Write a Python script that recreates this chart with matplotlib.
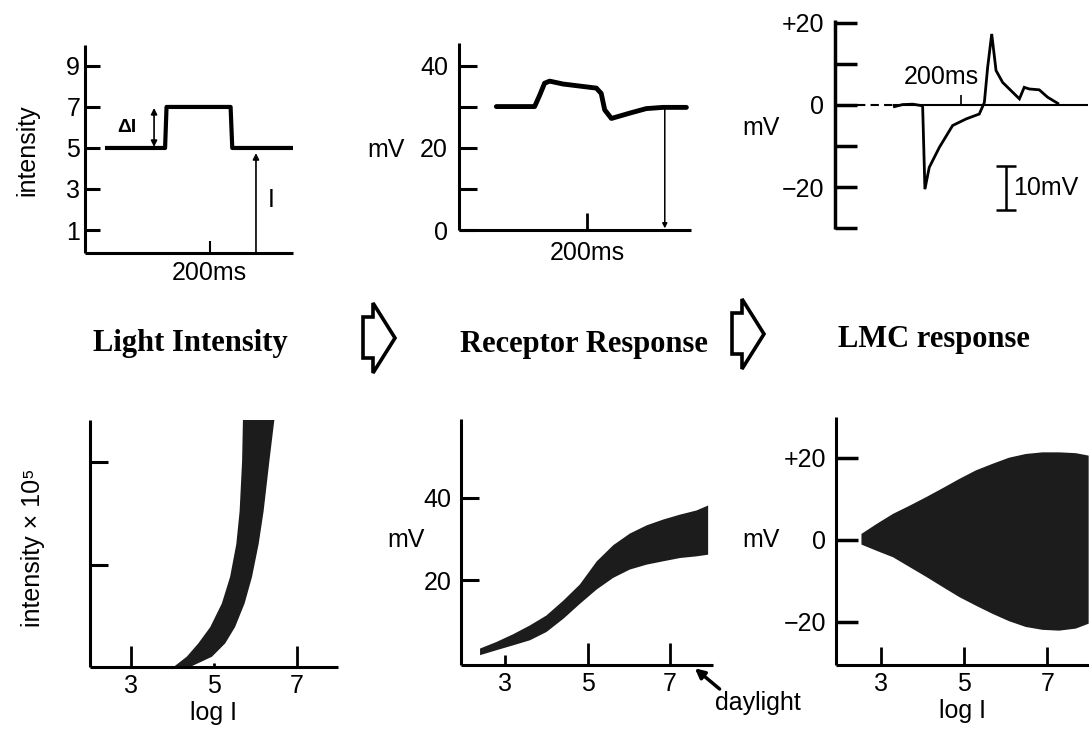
import matplotlib.pyplot as plt
from matplotlib.patches import Polygon

# ---- data ----
# top left: stimulus step
step_t = [10.6, 38.5, 39.2, 70.0, 70.8, 99.8]
step_i = [5, 5, 7, 7, 5, 5]
step_yticks = [1, 3, 5, 7, 9]

# top middle: receptor trace
rec_t = [16.1, 32.6, 34.8, 36.9, 39.1, 44.8, 52.0, 59.2, 61.3, 62.8, 65.7, 73.6, 80.7, 87.9, 98.0]
rec_mv = [30.1, 30.1, 32.9, 35.8, 36.3, 35.6, 35.1, 34.6, 33.3, 29.3, 27.2, 28.5, 29.6, 29.9, 29.9]
rec_yticks = [0, 10, 20, 30, 40]
rec_ylabels = ['0', '', '20', '', '40']

# top right: LMC trace
lmc_t = [23.4, 26.6, 30.6, 34.5, 35.4, 37.1, 41.1, 46.3, 51.6, 56.8, 58.8, 60.1, 61.7,
         63.4, 66.0, 72.6, 74.5, 76.5, 80.4, 83.7, 87.7]
lmc_mv = [-0.4, 0.1, 0.2, -0.2, -20.5, -15.2, -10.3, -5.0, -3.4, -2.2, 0.6, 9.2, 17.3,
          8.4, 5.5, 1.5, 4.3, 3.9, 3.7, 1.9, 0.4]
lmc_yticks = [-30, -20, -10, 0, 10, 20]
lmc_ylabels = ['', '\u221220', '', '0', '', '+20']
scale_bar_t, scale_bar_mid, scale_bar_half = 67.3, -20.2, 5.4

# bottom left: intensity band vs log I (left edge bottom->top, right edge top->bottom)
int_left_x = [4.02, 4.34, 4.62, 4.91, 5.19, 5.39, 5.54, 5.62, 5.68, 5.70]
int_left_y = [0.0, 0.10, 0.23, 0.39, 0.62, 0.88, 1.20, 1.52, 2.01, 2.41]
int_right_x = [6.46, 6.34, 6.20, 6.08, 5.92, 5.74, 5.51, 5.27, 4.95, 4.42]
int_right_y = [2.41, 2.01, 1.52, 1.20, 0.88, 0.62, 0.39, 0.23, 0.10, 0.0]

# bottom middle: receptor band
recb_x = [2.38, 2.78, 3.19, 3.59, 3.99, 4.40, 4.80, 5.21, 5.61, 6.01, 6.42, 6.82, 7.23, 7.63, 7.91]
recb_hi = [3.6, 5.2, 7.1, 9.2, 11.6, 15.2, 19.1, 24.7, 28.6, 31.4, 33.4, 34.8, 36.0, 37.0, 38.2]
recb_lo = [2.0, 3.2, 4.4, 5.6, 7.6, 10.8, 14.4, 17.9, 20.7, 22.7, 23.9, 24.7, 25.5, 25.9, 26.3]

# bottom right: LMC band
lmcb_x = [2.52, 2.88, 3.28, 3.68, 4.08, 4.48, 4.87, 5.27, 5.67, 6.07, 6.47, 6.87, 7.27, 7.67, 7.98]
lmcb_hi = [1.6, 4.0, 6.5, 8.5, 10.6, 12.8, 15.0, 17.1, 18.7, 20.2, 21.1, 21.5, 21.5, 21.3, 20.7]
lmcb_lo = [-1.0, -2.5, -4.1, -6.5, -8.9, -11.4, -13.8, -15.9, -17.9, -19.7, -21.1, -21.8, -22.0, -21.5, -20.3]

logi_ticks = [3, 5, 7]

W, H = 1089, 731
plt.rcParams['font.family'] = ['Liberation Sans', 'DejaVu Sans']
plt.rcParams['font.size'] = 18
fig = plt.figure(figsize=(W / 100, H / 100), dpi=100)


def box(l, t, r, b):
    return fig.add_axes([l / W, 1 - b / H, (r - l) / W, (b - t) / H])


def at(px, py):
    return px / W, 1 - py / H


def frame(ax, lw=2.2):
    for s in ['top', 'right']:
        ax.spines[s].set_visible(False)
    for s in ['left', 'bottom']:
        ax.spines[s].set_linewidth(lw)
        ax.spines[s].set_capstyle('butt')
    ax.patch.set_alpha(0)


# ---- top left ----
ax1 = box(85, 45, 293, 253)
frame(ax1)
ax1.plot(step_t, step_i, color='k', lw=3)
ax1.set_xlim(0, 100)
ax1.set_ylim(-0.12, 10.02)
ax1.set_yticks(step_yticks)
ax1.tick_params(axis='y', direction='in', length=11, width=2.2, pad=3.5)
ax1.set_xticks([60], ['200ms'])
ax1.tick_params(axis='x', direction='in', length=9, width=1.5, pad=6)
ax1.annotate('', xy=(33.2, 6.95), xytext=(33.2, 5.05),
             arrowprops=dict(arrowstyle='<|-|>', lw=1.2, color='k', mutation_scale=9,
                             shrinkA=0, shrinkB=0))
ax1.text(20, 6.0, '\u0394I', ha='center', va='center', fontsize=14, fontweight='bold')
ax1.annotate('', xy=(82.2, 4.75), xytext=(82.2, -0.1),
             arrowprops=dict(arrowstyle='-|>', lw=1.2, color='k', mutation_scale=9,
                             shrinkA=0, shrinkB=0))
ax1.text(89.4, 2.45, 'I', ha='center', va='center')
fig.text(*at(27, 150), 'intensity', rotation=90, ha='center', va='center')

# ---- top middle ----
ax2 = box(459, 43, 691, 230)
frame(ax2)
ax2.plot(rec_t, rec_mv, color='k', lw=3.5, solid_joinstyle='round', solid_capstyle='round')
ax2.set_xlim(0, 100)
ax2.set_ylim(0, 45.6)
ax2.set_yticks(rec_yticks, rec_ylabels)
ax2.tick_params(axis='y', direction='in', length=13, width=2.2, pad=8)
ax2.set_xticks([55.3], ['200ms'])
ax2.tick_params(axis='x', direction='in', length=12, width=2, pad=8)
ax2.annotate('', xy=(88.7, 0.4), xytext=(88.7, 29.9),
             arrowprops=dict(arrowstyle='-|>', lw=1.1, color='k', mutation_scale=7,
                             shrinkA=0, shrinkB=0))
fig.text(*at(386, 150), 'mV', ha='center', va='center')

# ---- top right ----
ax3 = box(835, 20, W, 229)
frame(ax3, lw=2.5)
ax3.spines['bottom'].set_position(('data', 0))
ax3.spines['bottom'].set_linewidth(1.5)
ax3.spines['bottom'].set_bounds(22.8, 99.5)
ax3.axhline(0, xmin=0.087, xmax=0.228, color='k', lw=1.5, ls=(0, (4, 2.5)))
ax3.plot(lmc_t, lmc_mv, color='k', lw=2.0, solid_joinstyle='miter')
ax3.set_xlim(0, 100)
ax3.set_ylim(-30.2, 20.7)
ax3.set_yticks(lmc_yticks, lmc_ylabels)
ax3.tick_params(axis='y', direction='in', length=15.5, width=2.5, pad=8)
ax3.set_xticks([49.6], [''])
ax3.tick_params(axis='x', direction='in', length=7, width=1.2)
ax3.text(41.7, 6.7, '200ms', ha='center', va='center')
ax3.errorbar(scale_bar_t, scale_bar_mid, yerr=scale_bar_half, color='k', lw=1.8,
             capsize=7, capthick=1.8)
ax3.text(70, -20.1, '10mV', ha='left', va='center')
fig.text(*at(761, 128), 'mV', ha='center', va='center')

# ---- bottom left ----
ax4 = box(90, 420, 338, 667)
frame(ax4)
ax4.fill(int_left_x + int_right_x, int_left_y + int_right_y, color='#1c1c1c', lw=0)
ax4.set_xlim(2, 8)
ax4.set_ylim(0, 2.41)
ax4.set_yticks([1, 2], ['', ''])
ax4.tick_params(axis='y', direction='in', length=13, width=2.2)
ax4.set_xticks(logi_ticks)
ax4.tick_params(axis='x', direction='in', length=15, width=2, pad=5)
ax4.xaxis.get_major_ticks()[1].tick1line.set_markersize(3)
ax4.set_xlabel('log I', labelpad=2)
fig.text(*at(33, 548), 'intensity \u00d7 10\u2075', rotation=90, ha='center', va='center')

# ---- bottom middle ----
ax5 = box(461, 419, 713, 665)
frame(ax5)
ax5.fill_between(recb_x, recb_lo, recb_hi, color='#1c1c1c', lw=0)
ax5.set_xlim(1.93, 8.04)
ax5.set_ylim(-0.5, 59)
ax5.set_yticks([20, 40])
ax5.tick_params(axis='y', direction='in', length=13, width=2.2, pad=7)
ax5.set_xticks(logi_ticks)
ax5.tick_params(axis='x', direction='in', length=15.5, width=2, pad=5)
ax5.xaxis.get_major_ticks()[0].tick1line.set_markersize(7)
ax5.annotate('', xy=(7.6, -1.3), xytext=(8.2, -6.3), annotation_clip=False,
             arrowprops=dict(arrowstyle='-|>', lw=2.5, color='k', mutation_scale=14,
                             shrinkA=0, shrinkB=0))
ax5.text(8.1, -9.6, 'daylight', ha='left', va='center', clip_on=False)
fig.text(*at(406, 540), 'mV', ha='center', va='center')

# ---- bottom right ----
ax6 = box(836, 417, W, 665)
frame(ax6)
ax6.fill_between(lmcb_x, lmcb_lo, lmcb_hi, color='#1c1c1c', lw=0)
ax6.set_xlim(1.92, 8.0)
ax6.set_ylim(-30.5, 30)
ax6.set_yticks([-20, 0, 20], ['\u221220', '0', '+20'])
ax6.tick_params(axis='y', direction='in', length=15.5, width=2.5, pad=7)
ax6.set_xticks(logi_ticks)
ax6.tick_params(axis='x', direction='in', length=13, width=2, pad=5)
ax6.set_xlabel('log I', labelpad=2)
fig.text(*at(761, 540), 'mV', ha='center', va='center')

# ---- middle row: titles and block arrows ----
for label, cx, cy in [('Light Intensity', 190, 343), ('Receptor Response', 584, 345),
                      ('LMC response', 934, 340)]:
    fig.text(*at(cx, cy), label, family='Liberation Serif', fontweight='bold',
             fontsize=22, ha='center', va='center')

arrow_px = [(363, 317), (373, 317), (373, 303), (395, 338), (373, 373), (373, 358), (363, 358)]
for dx, dy in [(0, 0), (369, -4)]:
    pts = [at(x + dx, y + dy) for x, y in arrow_px]
    fig.add_artist(Polygon(pts, closed=True, fill=False, lw=2.6, ec='k',
                           joinstyle='miter', transform=fig.transFigure))

fig.savefig('out.png', dpi=100)
